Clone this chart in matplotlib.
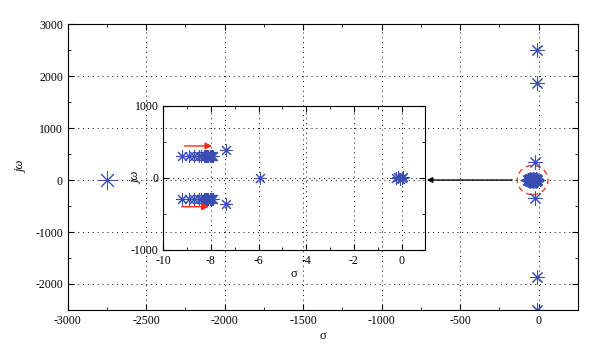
import matplotlib
matplotlib.use('Agg')
import matplotlib.pyplot as plt
from matplotlib.patches import Ellipse
from matplotlib.ticker import MultipleLocator

plt.rcParams['font.family'] = ['Liberation Serif', 'DejaVu Serif']
plt.rcParams['axes.unicode_minus'] = False
plt.rcParams['font.size'] = 8.5

# poles seen on the full plane
far_sigma = [-2750, -10, -10, -10, -10, -25, -25]
far_jw = [0, 2500, 1860, -1860, -2500, 350, -350]
blob_sigma = [-70, -60, -50, -40, -30, -20, -10, -55, -35, -15, -55, -35, -15]
blob_jw = [0, 0, 0, 0, 0, 0, 0, 25, 25, 25, -25, -25, -25]

# poles seen in the zoomed inset
cl_sigma = [-9.2, -8.9, -8.7, -8.5, -8.4, -8.3, -8.25, -8.2, -8.15, -8.1,
            -8.05, -8.0, -7.95, -7.9]
cl_up = [310] * len(cl_sigma)
cl_dn = [-300] * len(cl_sigma)
in_sigma = [-7.37, -7.37, -5.94, -0.25, -0.15, -0.08, 0.0, 0.05]
in_jw = [380, -365, 0, 0, 10, -10, 0, 5]

blue = '#3a4db2'
star = (8, 2, 0)

fig = plt.figure(figsize=(6, 3.6), dpi=100)
ax = fig.add_axes([0.113, 0.139, 0.85, 0.794])
ax.plot(far_sigma[:1], far_jw[:1], ls='none', marker=star, ms=13, mec=blue, mew=0.7)
ax.plot(far_sigma[1:], far_jw[1:], ls='none', marker=star, ms=10, mec=blue, mew=0.75)
ax.plot(blob_sigma, blob_jw, ls='none', marker=star, ms=10, mec=blue, mew=1.3)
ax.set_xlim(-3000, 250)
ax.set_ylim(-2500, 3000)
ax.xaxis.set_major_locator(MultipleLocator(500))
ax.xaxis.set_minor_locator(MultipleLocator(250))
ax.yaxis.set_major_locator(MultipleLocator(1000))
ax.yaxis.set_minor_locator(MultipleLocator(500))
ax.tick_params(which='both', direction='in', top=True, right=True)
ax.tick_params(which='major', length=4)
ax.tick_params(which='minor', length=2.5)
ax.grid(True, ls=(0, (1, 4)), color='black', lw=0.7)
ax.set_xlabel('σ', fontsize=9, labelpad=2)
ax.set_ylabel('jω', fontsize=9, style='italic')
ax.yaxis.set_label_coords(-0.08, 0.5)

ax.add_patch(Ellipse((-38, 0), 196, 560, fill=False, ec='#f04020', ls=(0, (4, 3)), lw=1))
ax.annotate('', xy=(-730, 0), xytext=(-150, 0),
            arrowprops=dict(arrowstyle='-|>', color='black', lw=1, mutation_scale=8))

ins = fig.add_axes([0.272, 0.306, 0.437, 0.4])
ins.patch.set_alpha(0)
ins.plot(cl_sigma, cl_up, ls='none', marker=star, ms=9, mec=blue, mew=0.75)
ins.plot(cl_sigma, cl_dn, ls='none', marker=star, ms=9, mec=blue, mew=0.75)
ins.plot(in_sigma, in_jw, ls='none', marker=star, ms=9, mec=blue, mew=0.75)
ins.set_xlim(-10, 1)
ins.set_ylim(-1000, 1000)
ins.xaxis.set_major_locator(MultipleLocator(2))
ins.xaxis.set_minor_locator(MultipleLocator(1))
ins.yaxis.set_major_locator(MultipleLocator(1000))
ins.yaxis.set_minor_locator(MultipleLocator(500))
ins.tick_params(which='both', direction='in', top=True, right=True)
ins.tick_params(which='major', length=4)
ins.tick_params(which='minor', length=2.5)
ins.grid(True, ls=(0, (1, 4)), color='black', lw=0.7)
ins.set_xlabel('σ', fontsize=9, labelpad=1)
ins.set_ylabel('jω', fontsize=9, style='italic')
ins.yaxis.set_label_coords(-0.08, 0.5)

red = '#ff2a10'
ins.annotate('', xy=(-7.83, 443), xytext=(-9.23, 443),
             arrowprops=dict(arrowstyle='-|>', color=red, lw=1, mutation_scale=10))
ins.annotate('', xy=(-7.97, -401), xytext=(-9.34, -401),
             arrowprops=dict(arrowstyle='-|>', color=red, lw=1, mutation_scale=10))

fig.savefig('out.png', dpi=100)
